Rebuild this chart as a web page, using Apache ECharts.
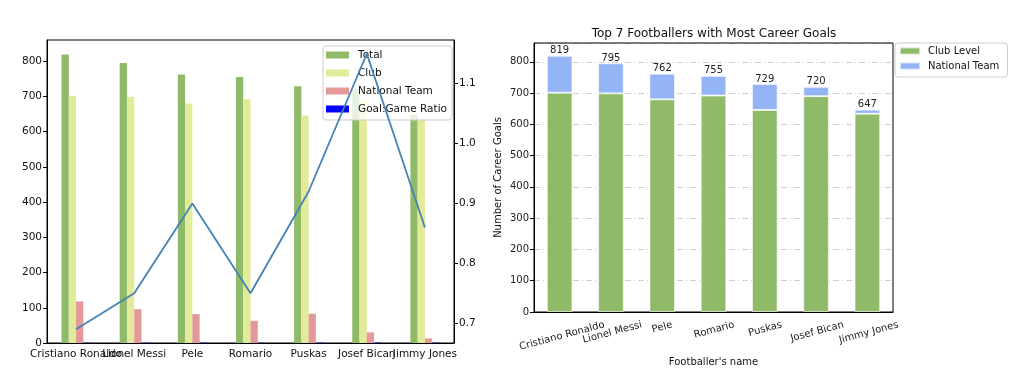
<!DOCTYPE html>
<html><head><meta charset="utf-8">
<script src="https://cdn.jsdelivr.net/npm/echarts@6.0.0/dist/echarts.min.js"></script>
<style>html,body{margin:0;padding:0;background:#fff}#c{width:1024px;height:383px}</style>
</head><body><div id="c"></div>
<script>
const categories = ['Cristiano Ronaldo', 'Lionel Messi', 'Pele', 'Romario', 'Puskas', 'Josef Bican', 'Jimmy Jones'];
const totalGoals = [819, 795, 762, 755, 729, 720, 647];
const clubGoals = [701, 699, 680, 692, 646, 690, 634];
const nationalGoals = [118, 96, 82, 63, 83, 30, 13];
const goalRatio = [0.69, 0.75, 0.90, 0.75, 0.92, 1.15, 0.86];

const F = '"DejaVu Sans", sans-serif';
const ctx = document.createElement('canvas').getContext('2d');
ctx.font = '10px "DejaVu Sans"';
const S = Math.sin(15 * Math.PI / 180), C = Math.cos(15 * Math.PI / 180);
const hh = categories.map(c => ctx.measureText(c).width / 2 * S + 5.8 * C);
const hmin = Math.min(...hh);
const rich = {};
categories.forEach((c, i) => {
  rich['r' + i] = {fontSize: 10, fontFamily: F, color: '#222', lineHeight: 12,
    padding: [2 * (hh[i] - hmin) / C, 0, 0, 0]};
});

const axisLineStyle = {color: '#000', width: 1};
const chart = echarts.init(document.getElementById('c'));
chart.setOption({
  animation: false,
  backgroundColor: '#fff',
  title: {
    text: 'Top 7 Footballers with Most Career Goals',
    left: 709, top: 23, textAlign: 'center',
    textStyle: {fontSize: 12, fontWeight: 'normal', fontFamily: F, color: '#111'}
  },
  legend: [
    {
      left: 323, top: 46, orient: 'vertical',
      data: ['Total', 'Club', 'National Team', 'Goal:Game Ratio'],
      icon: 'rect', itemWidth: 23, itemHeight: 7, itemGap: 6,
      padding: [3, 5, 5, 3],
      borderColor: '#ccc', borderWidth: 1, borderRadius: 3,
      backgroundColor: 'rgba(255,255,255,0.8)',
      textStyle: {fontSize: 10.5, fontFamily: F, color: '#111', lineHeight: 12, padding: [0, 0, 0, 4]}
    },
    {
      left: 895, top: 43, orient: 'vertical',
      data: ['Club Level', 'National Team '],
      icon: 'rect', itemWidth: 20, itemHeight: 7, itemGap: 3,
      padding: [2, 5, 5, 4],
      borderColor: '#ccc', borderWidth: 1, borderRadius: 3,
      backgroundColor: 'rgba(255,255,255,0.8)',
      textStyle: {fontSize: 10, fontFamily: F, color: '#111', lineHeight: 12, padding: [0, 0, 0, 3]}
    }
  ],
  grid: [
    {left: 47, top: 40, right: 570, bottom: 40, show: true, z: 1, borderColor: '#000', borderWidth: 1, outerBoundsMode: 'none', containLabel: false},
    {left: 534, top: 43, right: 131, bottom: 71, show: true, z: 1, borderColor: '#000', borderWidth: 1, outerBoundsMode: 'none', containLabel: false}
  ],
  xAxis: [
    {
      gridIndex: 0, type: 'category', data: categories,
      axisLine: {lineStyle: axisLineStyle},
      axisTick: {alignWithLabel: true, length: 4, lineStyle: axisLineStyle},
      axisLabel: {fontSize: 10.5, fontFamily: F, color: '#111', margin: 6, interval: 0, hideOverlap: false},
      splitLine: {show: false}
    },
    {
      gridIndex: 1, type: 'category', data: categories,
      axisLine: {lineStyle: axisLineStyle},
      axisTick: {alignWithLabel: true, length: 4, lineStyle: axisLineStyle},
      axisLabel: {rotate: 15, align: 'center', verticalAlign: 'middle', margin: 7 + hmin, interval: 0,
        hideOverlap: false,
        formatter: (v, i) => '{r' + i + '|' + v + '}', rich: rich},
      splitLine: {show: false},
      name: "Footballer's name", nameLocation: 'middle', nameGap: 41,
      nameTextStyle: {fontSize: 10, fontFamily: F, color: '#111'}
    }
  ],
  yAxis: [
    {
      gridIndex: 0, type: 'value', min: 0, max: 860, interval: 100,
      axisLine: {show: true, lineStyle: axisLineStyle},
      axisTick: {show: true, length: 4, lineStyle: axisLineStyle},
      axisLabel: {showMaxLabel: false, fontSize: 10.5, fontFamily: F, color: '#111', margin: 5},
      splitLine: {show: false}
    },
    {
      gridIndex: 0, type: 'value', position: 'right', min: 0.667, max: 1.173,
      axisLine: {show: true, lineStyle: axisLineStyle},
      axisTick: {show: true, length: 4, lineStyle: axisLineStyle},
      axisLabel: {showMinLabel: false, showMaxLabel: false, fontSize: 10.5, fontFamily: F, color: '#111', margin: 5,
        formatter: v => v.toFixed(1)},
      splitLine: {show: false}
    },
    {
      gridIndex: 1, type: 'value', min: 0, max: 860, interval: 100,
      axisLine: {show: true, lineStyle: axisLineStyle},
      axisTick: {show: true, length: 4, lineStyle: axisLineStyle},
      axisLabel: {showMaxLabel: false, fontSize: 10, fontFamily: F, color: '#222', margin: 5},
      splitLine: {show: true, lineStyle: {color: '#d0d0d0', width: 1, type: [6, 3, 1, 3]}},
      name: 'Number of Career Goals', nameLocation: 'middle', nameGap: 31,
      nameTextStyle: {fontSize: 10, fontFamily: F, color: '#111'}
    }
  ],
  series: [
    {type: 'bar', name: 'Total', xAxisIndex: 0, yAxisIndex: 0, data: totalGoals,
      barWidth: '12.5%', barGap: '0%', itemStyle: {color: '#8fbb69'}},
    {type: 'bar', name: 'Club', xAxisIndex: 0, yAxisIndex: 0, data: clubGoals,
      barWidth: '12.5%', barGap: '0%', itemStyle: {color: '#e2eb99'}},
    {type: 'bar', name: 'National Team', xAxisIndex: 0, yAxisIndex: 0, data: nationalGoals,
      barWidth: '12.5%', barGap: '0%', itemStyle: {color: '#e39999'}},
    {type: 'bar', name: 'Goal:Game Ratio', xAxisIndex: 0, yAxisIndex: 0, data: goalRatio,
      barWidth: '12.5%', barGap: '0%', itemStyle: {color: '#0000ff'}},
    {type: 'line', name: 'Goal:Game Ratio line', xAxisIndex: 0, yAxisIndex: 1, data: goalRatio,
      symbol: 'none', z: 6, lineStyle: {color: '#4682b4', width: 1.8}},
    {type: 'bar', name: 'Club Level', xAxisIndex: 1, yAxisIndex: 2, stack: 'goals', data: clubGoals,
      barWidth: '50%', itemStyle: {color: '#8fbb69', borderColor: 'rgba(255,255,255,0.6)', borderWidth: 1}},
    {type: 'bar', name: 'National Team ', xAxisIndex: 1, yAxisIndex: 2, stack: 'goals', data: nationalGoals,
      barWidth: '50%', itemStyle: {color: '#93b4f5', borderColor: 'rgba(255,255,255,0.6)', borderWidth: 1},
      label: {show: true, position: 'top', distance: 0, fontSize: 10, fontFamily: F, color: '#222',
        formatter: p => String(totalGoals[p.dataIndex])}}
  ]
});
</script>
</body></html>
